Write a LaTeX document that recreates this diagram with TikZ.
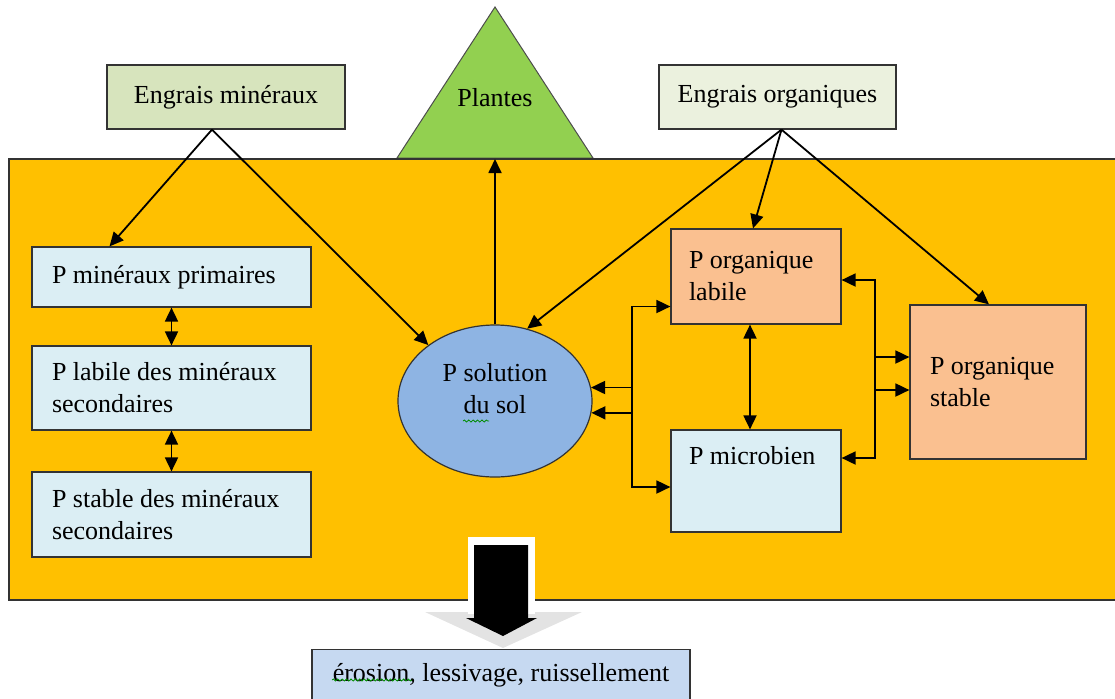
\documentclass[tikz,border=0pt]{standalone}
\usepackage{fontspec}
\setmainfont{Liberation Serif}
\usetikzlibrary{arrows.meta,shapes.geometric,decorations.pathmorphing}
\definecolor{solsable}{HTML}{FFC000}
\definecolor{vertengrais}{HTML}{D7E4BD}
\definecolor{vertorga}{HTML}{EBF1DE}
\definecolor{vertplante}{HTML}{92D050}
\definecolor{bleuclair}{HTML}{DBEEF4}
\definecolor{bleusol}{HTML}{8EB4E3}
\definecolor{peche}{HTML}{FAC090}
\definecolor{bleuerosion}{HTML}{C6D9F1}
\begin{document}
\begin{tikzpicture}[x=0.5pt,y=-0.5pt,
		txt/.style={font=\fontsize{13}{16}\selectfont},
		box/.style={txt,draw=black!80,line width=0.6pt,inner sep=0pt},
		pbox/.style={box,align=flush left,inner xsep=10pt,inner ysep=0pt},
		flux/.style={line width=0.9pt,-{Triangle[length=7pt,width=6.5pt]}},
		flux2/.style={line width=0.9pt,{Triangle[length=7pt,width=6.5pt]}-{Triangle[length=7pt,width=6.5pt]}},
		squig/.style={green!55!black,line width=0.4pt,decorate,decoration={snake,amplitude=0.5pt,segment length=2.2pt}}]
	\useasboundingbox (0,0) rectangle (1115,698);
	\filldraw[fill=vertplante,draw=black!70,line width=0.5pt] (495,7) -- (397,158) -- (593,158) -- cycle;
	\node[txt] (plantes) at (495,98) {Plantes};
	\filldraw[fill=solsable,draw=black!80,line width=0.7pt] (9,159) rectangle (1120,600);
	\coordinate (pl) at (495,159);

	\node[box,fill=vertengrais,minimum width=119pt,minimum height=32pt] (engmin) at (226,97) {Engrais minéraux};
	\node[box,fill=vertorga,minimum width=118.5pt,minimum height=32pt] (engorg) at (777.5,97) {Engrais organiques};

	\node[pbox,fill=bleuclair,text width=119.5pt,minimum height=30pt] (pprim) at (171.5,277) {P minéraux primaires};
	\node[pbox,fill=bleuclair,text width=119.5pt,minimum height=42pt] (plab) at (171.5,388) {P labile des minéraux\\secondaires};
	\node[pbox,fill=bleuclair,text width=119.5pt,minimum height=42.5pt] (pstab) at (171.5,514.5) {P stable des minéraux\\secondaires};

	\node[box,ellipse,fill=bleusol,minimum width=97pt,minimum height=76pt] (psol) at (495,401) {};
	\node[txt,align=center] (soltxt) at (495,389) {P solution\\du sol};

	\node[pbox,fill=peche,inner xsep=9pt,text width=67pt,minimum height=47.5pt] (olab) at (756,276.5) {P organique\\labile};
	\node[pbox,fill=peche,text width=68pt,minimum height=77pt] (ostab) at (998,382) {P organique\\stable};
	\node[pbox,fill=bleuclair,inner xsep=9pt,text width=67pt,minimum height=51pt] (pmic) at (756,481) {P microbien\\[10pt]\mbox{}};

	\coordinate (em) at ([xshift=-7pt]engmin.south);
	\coordinate (eo) at ([xshift=2pt]engorg.south);
	\coordinate (lanesol) at (632,400);
	\coordinate (laneorg) at (875,400);

	\draw[flux] (em) -- ([xshift=-31pt]pprim.north);
	\draw[flux] (em) -- (psol.140);
	\draw[flux] (eo) -- (psol.66);
	\draw[flux] (eo) -- ([xshift=-1.5pt]olab.north);
	\draw[flux] (eo) -- ([xshift=-4.5pt]ostab.north);
	\draw[flux] (psol.north) -- (pl);
	\draw[flux2] (pprim) -- (plab);
	\draw[flux2] (plab) -- (pstab);
	\draw[flux2] (psol.8) -| (lanesol) |- ([yshift=-15pt]olab.west);
	\draw[flux2] (psol.-7) -| (lanesol) |- ([yshift=-3pt]pmic.west);
	\draw[flux2] ([xshift=-3pt]olab.south) -- ([xshift=-3pt]pmic.north);
	\draw[flux2] ([yshift=-1.75pt]olab.east) -| (laneorg) |- ([yshift=12.5pt]ostab.west);
	\draw[flux2] ([yshift=-4pt]ostab.west) -| (laneorg) |- ([yshift=11.5pt]pmic.east);

	\fill[gray!22] (425,612) -- (582,612) -- (503,648) -- cycle;
	\fill[white] (468,537) rectangle (535,614);
	\fill[black] (474,545) -- (528,545) -- (528,618) -- (537,618) -- (503,636) -- (466,618) -- (474,618) -- cycle;

	\node[box,fill=bleuerosion,minimum width=189pt,minimum height=26pt,anchor=north] (erosion) at (501,649) {érosion, lessivage, ruissellement};

	\draw[squig] (463,421) -- (489,421);
	\draw[squig] (332,680) -- (412,680);
\end{tikzpicture}
\end{document}
